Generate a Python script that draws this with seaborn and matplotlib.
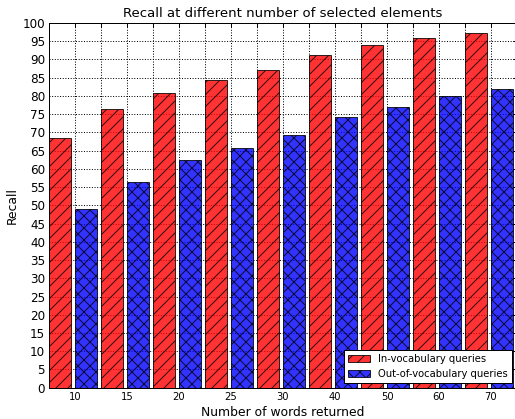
import matplotlib
matplotlib.use("Agg")
import matplotlib.pyplot as plt
import numpy as np
import pandas as pd
import seaborn as sns

words_returned = ["10", "15", "20", "25", "30", "40", "50", "60", "70"]
in_vocab_recall = [68.4, 76.3, 80.9, 84.4, 87.1, 91.2, 94.0, 95.9, 97.2]
out_vocab_recall = [49.0, 56.4, 62.4, 65.8, 69.3, 74.2, 77.1, 79.9, 81.9]
series_names = ["In-vocabulary queries", "Out-of-vocabulary queries"]
y_ticks = list(range(0, 101, 5))

df = pd.DataFrame(
    {
        "words": words_returned * 2,
        "recall": in_vocab_recall + out_vocab_recall,
        "series": [series_names[0]] * len(words_returned)
        + [series_names[1]] * len(words_returned),
    }
)

sns.set_style("white", rc={"text.color": "black", "axes.labelcolor": "black",
                           "xtick.color": "black", "ytick.color": "black"})
plt.rcParams["font.family"] = ["DejaVu Sans"]

fig = plt.figure(figsize=(515 / 72, 419 / 72), dpi=72)
ax = fig.add_axes([49 / 515, 31.3 / 419, 468 / 515, 364.7 / 419])

sns.barplot(
    data=df,
    x="words",
    y="recall",
    hue="series",
    hue_order=series_names,
    order=words_returned,
    palette=["red", "blue"],
    saturation=1,
    alpha=0.8,
    width=1.0,
    gap=0.16,
    errorbar=None,
    edgecolor="black",
    linewidth=1,
    ax=ax,
)

# hatches like the old classic style
for cont, hatch in zip(ax.containers, ["//", "xx"]):
    for patch in cont.patches:
        patch.set_hatch(hatch)

n = len(words_returned)
edge_ticks = []
edge_labels = []
for i, lab in enumerate(words_returned):
    edge_ticks += [i - 0.46, i + 0.04]
    edge_labels += ["", lab]
ax.set_xticks(edge_ticks)
ax.set_xticklabels(edge_labels, fontsize=10)
ax.set_xlim(-0.46, n - 0.46)

ax.set_ylim(0, 100)
ax.set_yticks(y_ticks)
ax.set_yticklabels([str(v) for v in y_ticks], fontsize=12)

ax.tick_params(direction="in", top=True, right=True, length=4, width=1,
               color="black", labelcolor="black", pad=4)
ax.grid(True, linestyle=":", color="black", linewidth=1)
ax.set_axisbelow(True)
for sp in ax.spines.values():
    sp.set_color("black")
    sp.set_linewidth(1)

ax.set_title("Recall at different number of selected elements", fontsize=13.3,
             color="black")
ax.set_xlabel("Number of words returned", fontsize=12.4, color="black")
ax.set_ylabel("Recall", fontsize=12.4, color="black")

leg = ax.legend(
    handles=list(ax.containers),
    labels=series_names,
    loc="lower right",
    fontsize=10,
    fancybox=False,
    framealpha=1,
    edgecolor="black",
    borderaxespad=0.5,
    handlelength=2.2,
)
leg.get_frame().set_linewidth(1)

fig.savefig("out.png", dpi=72)
